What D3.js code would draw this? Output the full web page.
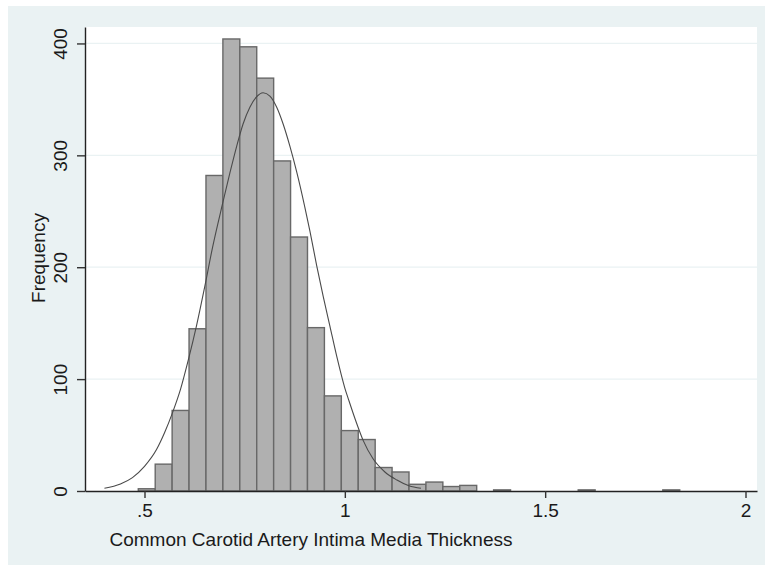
<!DOCTYPE html>
<html>
<head>
<meta charset="utf-8">
<script src="https://cdn.jsdelivr.net/npm/d3@7"></script>
<style>
  body { margin: 0; background: #fff; }
  svg text { font-family: "Liberation Sans", Arial, sans-serif; fill: #1a1a1a; }
</style>
</head>
<body>
<div id="chart"></div>
<script>
// frequency per bin (32 bins, starting at binStart, width binWidth)
const binStart = 0.4845;
const binWidth = 0.04223;
const counts = [2, 24, 72, 145, 282, 404, 397, 369, 295, 227, 146, 85, 54, 46, 21, 17,
                6, 8, 4, 5, 0, 1, 0, 0, 0, 0, 1, 0, 0, 0, 0, 1];

// overlaid normal density (value, frequency)
const curveX = [0.40, 0.44, 0.47, 0.50, 0.53, 0.55, 0.57, 0.59, 0.61, 0.63, 0.65, 0.67,
                0.695, 0.713, 0.73, 0.746, 0.763, 0.779, 0.796, 0.813, 0.830, 0.846,
                0.863, 0.880, 0.900, 0.913, 0.930, 0.946, 0.963, 0.980, 1.000, 1.010,
                1.027, 1.046, 1.070, 1.100, 1.130, 1.160, 1.190];
const curveY = [2.4, 6.3, 12, 22, 37, 52, 70, 91, 118, 148, 182, 218,
                257, 284, 308, 328, 343, 352, 356, 353, 343, 328,
                308, 285, 254, 232, 201, 174, 147, 120, 92, 81,
                63, 45, 29, 17, 9.8, 4.6, 2.4];

const xTicks = [0.5, 1, 1.5, 2];
const xTickLabels = [".5", "1", "1.5", "2"];
const yTicks = [0, 100, 200, 300, 400];
const yTickLabels = ["0", "100", "200", "300", "400"];

const W = 765, H = 566;
const plot = { left: 85, right: 757, top: 27, bottom: 491 };

const svg = d3.select("#chart").append("svg")
  .attr("width", W).attr("height", H);

// outer graph region
svg.append("rect")
  .attr("x", 8).attr("y", 6)
  .attr("width", W - 8).attr("height", 559)
  .attr("fill", "#eaf2f3");

// plot region
svg.append("rect")
  .attr("x", plot.left).attr("y", plot.top)
  .attr("width", plot.right - plot.left).attr("height", plot.bottom - plot.top)
  .attr("fill", "#fff");

const x = d3.scaleLinear()
  .domain([0.3515, 2.0287])
  .range([plot.left, plot.right]);

const y = d3.scaleLinear()
  .domain([0, 414.7])
  .range([plot.bottom, plot.top]);

// grid
svg.append("g")
  .selectAll("line")
  .data(yTicks.slice(1))
  .enter().append("line")
    .attr("x1", plot.left).attr("x2", plot.right)
    .attr("y1", d => y(d)).attr("y2", d => y(d))
    .attr("stroke", "#eaf2f3")
    .attr("stroke-width", 1.2);

// bars
const bins = counts.map((c, i) => ({
  x0: binStart + i * binWidth,
  x1: binStart + (i + 1) * binWidth,
  n: c
})).filter(d => d.n > 0);

svg.append("g")
  .selectAll("rect")
  .data(bins)
  .enter().append("rect")
    .attr("x", d => x(d.x0))
    .attr("y", d => y(d.n))
    .attr("width", d => x(d.x1) - x(d.x0))
    .attr("height", d => y(0) - y(d.n))
    .attr("fill", "#b0b0b0")
    .attr("stroke", "#686868")
    .attr("stroke-width", 1.4);

// normal curve
const line = d3.line()
  .curve(d3.curveMonotoneX)
  .x(d => x(d[0]))
  .y(d => y(d[1]));

svg.append("path")
  .datum(curveX.map((v, i) => [v, curveY[i]]))
  .attr("fill", "none")
  .attr("stroke", "#4a4a4a")
  .attr("stroke-width", 1.1)
  .attr("d", line);

// x axis
const gx = svg.append("g")
  .attr("transform", `translate(0,${plot.bottom})`)
  .call(d3.axisBottom(x)
    .tickValues(xTicks)
    .tickFormat((d, i) => xTickLabels[i])
    .tickSize(7)
    .tickSizeOuter(0)
    .tickPadding(6));
gx.select(".domain").attr("stroke", "#222").attr("stroke-width", 1.4);
gx.selectAll(".tick line").attr("stroke", "#333").attr("stroke-width", 1.4);
gx.selectAll(".tick text").style("font-size", "19px").attr("fill", "#1a1a1a");

// y axis
const gy = svg.append("g")
  .attr("transform", `translate(${plot.left},0)`)
  .call(d3.axisLeft(y)
    .tickValues(yTicks)
    .tickFormat((d, i) => yTickLabels[i])
    .tickSize(8)
    .tickSizeOuter(0));
gy.select(".domain").attr("stroke", "#222").attr("stroke-width", 1.4);
gy.selectAll(".tick line").attr("stroke", "#333").attr("stroke-width", 1.4);
gy.selectAll(".tick text")
  .style("font-size", "19px")
  .attr("fill", "#1a1a1a")
  .attr("transform", "rotate(-90)")
  .attr("text-anchor", "middle")
  .attr("x", 0).attr("y", -18).attr("dy", 0);

// axis titles
svg.append("text")
  .attr("x", 311).attr("y", 546)
  .attr("text-anchor", "middle")
  .style("font-size", "19px")
  .text("Common Carotid Artery Intima Media Thickness");

svg.append("text")
  .attr("transform", "rotate(-90)")
  .attr("x", -258).attr("y", 45)
  .attr("text-anchor", "middle")
  .style("font-size", "19px")
  .text("Frequency");
</script>
</body>
</html>
